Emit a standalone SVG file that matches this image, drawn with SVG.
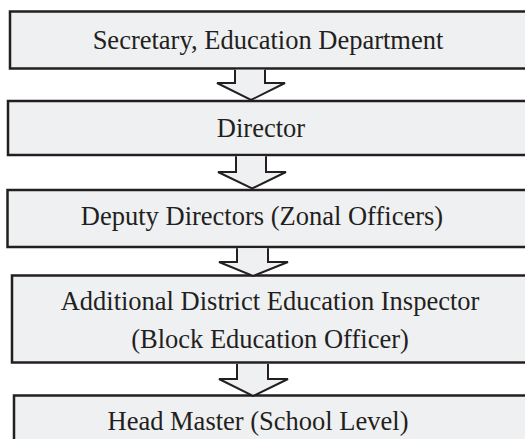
<svg xmlns="http://www.w3.org/2000/svg" width="525" height="439" viewBox="0 0 525 439">
<style>
.box{fill:#eff0f2;stroke:#231f20;stroke-width:2.5}
.arr{fill:#eff0f2;stroke:#231f20;stroke-width:2;stroke-linejoin:miter}
.t{font-family:"Liberation Serif","Times New Roman",serif;font-size:26.5px;fill:#231f20;text-anchor:middle}
</style>
<rect width="525" height="439" fill="#ffffff"/>
<g id="node1">
<rect class="box" x="10" y="11.5" width="530" height="57"/>
<text class="t" x="268" y="49">Secretary, Education Department</text>
</g>
<g id="node2">
<rect class="box" x="8" y="101" width="530" height="54"/>
<text class="t" x="261" y="137">Director</text>
</g>
<g id="node3">
<rect class="box" x="7.5" y="190" width="530" height="57"/>
<text class="t" x="262" y="225">Deputy Directors (Zonal Officers)</text>
</g>
<g id="node4">
<rect class="box" x="12" y="275.5" width="530" height="87"/>
<text class="t" x="270" y="310">Additional District Education Inspector</text>
<text class="t" x="270" y="348">(Block Education Officer)</text>
</g>
<g id="node5">
<rect class="box" x="14" y="395.5" width="530" height="60"/>
<text class="t" x="258" y="430">Head Master (School Level)</text>
</g>
<g id="connectors">
<path class="arr" d="M235,69.8 V83 H217 L251,100 L285,83 H265 V69.8"/>
<path class="arr" d="M236,156.3 V172 H218 L252,188.5 L286,172 H266 V156.3"/>
<path class="arr" d="M237,248.3 V262 H219 L253,276 L288,262 H268 V248.3"/>
<path class="arr" d="M237,364 V379 H219 L253,396 L288,379 H268 V364"/>
</g>
</svg>
